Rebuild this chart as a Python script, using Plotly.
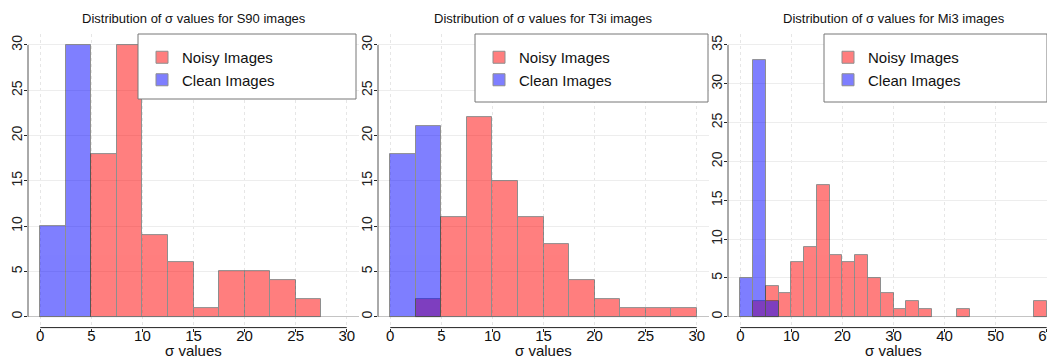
import plotly.graph_objects as go

# ---------------- data ----------------
bin_width = 2.5
bin_start = 0.0

panel_names = ["S90", "T3i", "Mi3"]
s90_noisy = [0, 0, 18, 30, 9, 6, 1, 5, 5, 4, 2, 0]
s90_clean = [10, 30]
t3i_noisy = [0, 2, 11, 22, 15, 11, 8, 4, 2, 1, 1, 1]
t3i_clean = [18, 21]
mi3_noisy = [0, 2, 4, 3, 7, 9, 17, 8, 7, 8, 5, 3, 1, 2, 1, 0, 0, 1, 0, 0, 0, 0, 0, 2]
mi3_clean = [5, 33, 2]

x_ticks_30 = [0, 5, 10, 15, 20, 25, 30]
x_ticks_60 = [0, 10, 20, 30, 40, 50, 60]
y_ticks_30 = [0, 5, 10, 15, 20, 25, 30]
y_ticks_35 = [0, 5, 10, 15, 20, 25, 30, 35]

series_labels = ["Noisy Images", "Clean Images"]

# ---------------- layout helpers ----------------
W, H = 1047, 358
NARROW = "Liberation Sans Narrow, Arial Narrow, Liberation Sans, sans-serif"
REG = "Liberation Sans, Arial, sans-serif"


def px(x):
    return x / W


def py(y):
    return 1 - y / H


def bars(counts):
    xs, ys = [], []
    for i, c in enumerate(counts):
        if c > 0:
            xs.append(bin_start + (i + 0.5) * bin_width)
            ys.append(c)
    return xs, ys


panels = [
    dict(noisy=s90_noisy, clean=s90_clean, dom=(28, 359), rng=(-1.2, 31.2),
         yr=(-1.2, 31.2), xt=x_ticks_30, yt=y_ticks_30, leg=(138, 356, 34, 99)),
    dict(noisy=t3i_noisy, clean=t3i_clean, dom=(378, 709), rng=(-1.2, 31.2),
         yr=(-1.2, 31.2), xt=x_ticks_30, yt=y_ticks_30, leg=(475, 708, 34, 102)),
    dict(noisy=mi3_noisy, clean=mi3_clean, dom=(728, 1047), rng=(-2.41, 60.06),
         yr=(-1.4, 36.4), xt=x_ticks_60, yt=y_ticks_35, leg=(824, 1047, 34, 102)),
]

fig = go.Figure()
shapes = []
annotations = []
layout = dict(
    width=W, height=H, margin=dict(l=0, r=0, t=0, b=0, autoexpand=False),
    paper_bgcolor="white", plot_bgcolor="white",
    barmode="overlay", bargap=0,
)

y_top, y_bot = 34.1, 327.6

for k, p in enumerate(panels):
    n = "" if k == 0 else str(k + 1)
    xa, ya = "x" + n, "y" + n
    legname = "legend" + n
    for counts, color, label in [(p["noisy"], "rgb(255,0,0)", series_labels[0]),
                                 (p["clean"], "rgb(0,0,255)", series_labels[1])]:
        xs, ys = bars(counts)
        fig.add_trace(go.Bar(
            x=xs, y=ys, width=bin_width, name=label,
            marker=dict(color=color, line=dict(color="#202020", width=1)),
            opacity=0.5, xaxis=xa, yaxis=ya, legend=legname,
            showlegend=True,
        ))
    layout["xaxis" + n] = dict(
        domain=[px(p["dom"][0]), px(p["dom"][1])], range=list(p["rng"]),
        anchor=ya, tickvals=p["xt"], ticks="outside", ticklen=3, tickcolor="#222",
        showline=False, zeroline=False, showgrid=True, gridcolor="#e6e6e6",
        griddash="dot", gridwidth=1, ticklabelstandoff=-9,
        ticklabeloverflow="allow",
        tickfont=dict(family=NARROW, size=15, color="#111"),
    )
    layout["yaxis" + n] = dict(
        domain=[py(y_bot), py(y_top)], range=list(p["yr"]),
        anchor=xa, tickvals=p["yt"], ticks="outside", ticklen=3, tickcolor="#222",
        showline=False, zeroline=True, zerolinecolor="#c4c4c4", zerolinewidth=1,
        showgrid=True, gridcolor="#ededed", gridwidth=1, tickangle=-90,
        ticklabelstandoff=-4,
        tickfont=dict(family=REG, size=14, color="#222"),
    )
    # axis lines spanning only the tick range
    shapes.append(dict(type="line", xref=xa, yref=ya + " domain", x0=p["xt"][0], x1=p["xt"][-1],
                       y0=0, y1=0, line=dict(color="#222", width=1)))
    shapes.append(dict(type="line", xref=xa + " domain", yref=ya, x0=0, x1=0,
                       y0=p["yt"][0], y1=p["yt"][-1], line=dict(color="#555", width=1)))
    # legend box
    lx0, lx1, ly0, ly1 = p["leg"]
    shapes.append(dict(type="rect", xref="paper", yref="paper", x0=px(lx0), x1=px(lx1),
                       y0=py(ly1), y1=py(ly0), fillcolor="white",
                       line=dict(color="#777", width=1), layer="above"))
    layout[legname] = dict(
        x=px(lx0 + 4), y=py(ly0 + 7), xanchor="left", yanchor="top",
        bgcolor="rgba(0,0,0,0)", borderwidth=0,
        font=dict(family=NARROW, size=15, color="#111"),
        itemclick=False, tracegroupgap=0,
    )
    cx = (p["dom"][0] + (p["dom"][0] + 331)) / 2
    annotations.append(dict(text="Distribution of σ values for %s images" % panel_names[k],
                            xref="paper", yref="paper", x=px(cx), y=py(18),
                            xanchor="center", yanchor="middle", showarrow=False,
                            font=dict(family=NARROW, size=13, color="#111")))
    annotations.append(dict(text="σ values", xref="paper", yref="paper", x=px(cx), y=py(350.5),
                            xanchor="center", yanchor="middle", showarrow=False,
                            font=dict(family=NARROW, size=15, color="#111")))

layout["shapes"] = shapes
layout["annotations"] = annotations
fig.update_layout(**layout)
fig.write_html(
    "out.html",
    config={"displayModeBar": False},
    post_script="document.body.style.margin='0';document.body.style.padding='0';"
                "document.body.style.overflow='hidden';",
)
